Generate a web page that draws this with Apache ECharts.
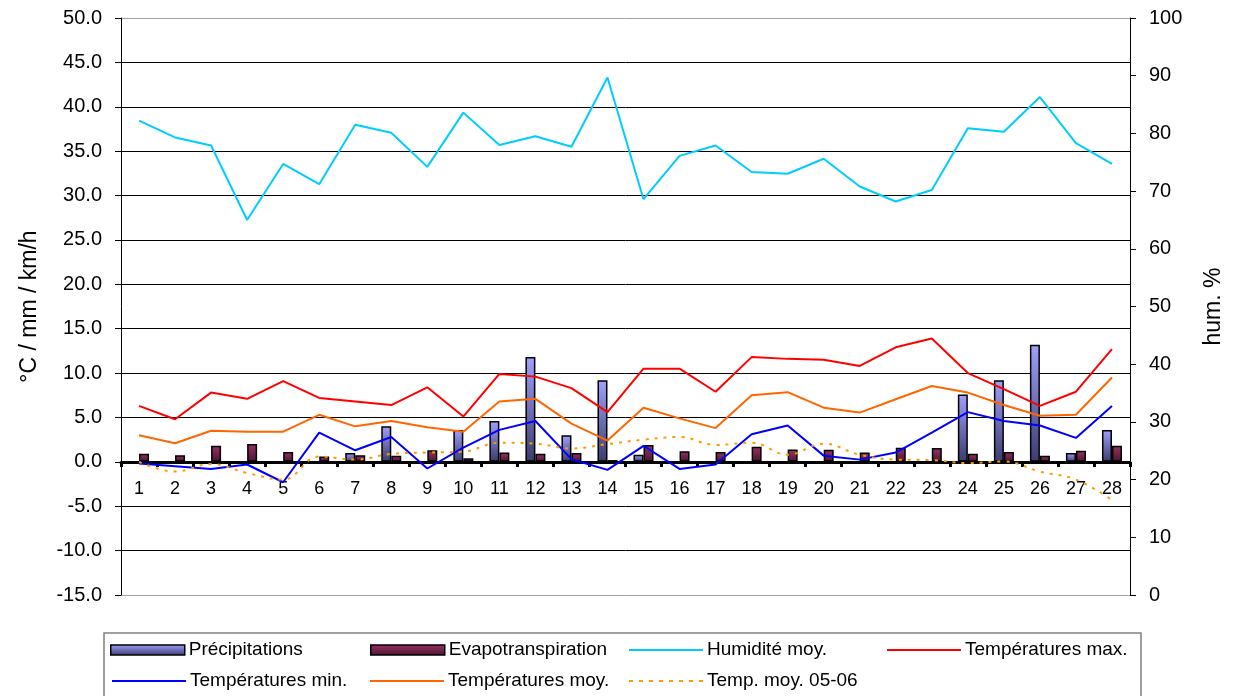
<!DOCTYPE html>
<html>
<head>
<meta charset="utf-8">
<script src="https://cdn.jsdelivr.net/npm/echarts@6/dist/echarts.min.js"></script>
<style>
  html, body { margin: 0; padding: 0; background: #fff; }
  #chart { width: 1233px; height: 696px; }
</style>
</head>
<body>
<div id="chart"></div>
<script>
// jours du mois
var days = ['1','2','3','4','5','6','7','8','9','10','11','12','13','14','15','16','17','18','19','20','21','22','23','24','25','26','27','28'];

var precip = [0, 0, 0, 0, 0, 0, 1.0, 4.0, 0, 3.6, 4.6, 11.8, 3.0, 9.2, 0.8, 0, 0, 0, 0, 0, 0, 0, 0, 7.6, 9.2, 13.2, 1.0, 3.6];
var evapo = [0.9, 0.75, 1.8, 2.0, 1.1, 0.6, 0.75, 0.7, 1.3, 0.4, 1.05, 0.9, 1.0, 0.2, 1.9, 1.2, 1.1, 1.7, 1.4, 1.35, 1.05, 1.6, 1.55, 0.9, 1.1, 0.7, 1.25, 1.8];
var humidite = [82.2, 79.3, 77.9, 65.0, 74.7, 71.2, 81.5, 80.1, 74.2, 83.6, 78.0, 79.5, 77.7, 89.7, 68.6, 76.1, 77.9, 73.3, 73.0, 75.6, 70.8, 68.2, 70.2, 80.9, 80.3, 86.3, 78.3, 74.7];
var tMax = [6.3, 4.8, 7.8, 7.1, 9.1, 7.2, 6.8, 6.4, 8.4, 5.1, 9.9, 9.6, 8.3, 5.6, 10.5, 10.5, 7.9, 11.8, 11.6, 11.5, 10.8, 12.9, 13.9, 10.0, 8.2, 6.3, 7.9, 12.7];
var tMin = [-0.2, -0.5, -0.8, -0.3, -2.3, 3.3, 1.3, 2.8, -0.75, 1.6, 3.6, 4.6, 0.3, -0.9, 1.8, -0.8, -0.3, 3.1, 4.1, 0.7, 0.25, 1.05, 3.3, 5.6, 4.6, 4.1, 2.7, 6.3];
var tMoy = [3.0, 2.1, 3.5, 3.4, 3.4, 5.3, 4.0, 4.6, 3.9, 3.4, 6.8, 7.1, 4.3, 2.4, 6.1, 4.9, 3.8, 7.5, 7.85, 6.1, 5.55, 7.05, 8.55, 7.8, 6.4, 5.2, 5.3, 9.5];
var tMoy0506 = [0.0, -1.1, -0.25, -1.25, -2.0, 0.6, 0.25, 0.9, 1.05, 1.15, 2.15, 2.05, 1.5, 2.0, 2.5, 2.8, 1.9, 2.15, 0.8, 2.05, 0.8, 0.25, 0.2, -0.15, 0.05, -1.1, -2.0, -4.3];

var chart = echarts.init(document.getElementById('chart'), null, {renderer: 'canvas'});

var font = 'Liberation Sans, Arial, sans-serif';

var barPrecip = new echarts.graphic.LinearGradient(0, 0, 0, 1, [
  {offset: 0, color: '#a0a0ff'},
  {offset: 1, color: '#3c3c6e'}
]);
var barEvapo = new echarts.graphic.LinearGradient(0, 0, 0, 1, [
  {offset: 0, color: '#993366'},
  {offset: 1, color: '#4a1430'}
]);

// dotted legend icon
var dots = 'path://';
for (var d = 0; d <= 70; d += 10) dots += 'M' + d + ',0h4v2h-4z';

// grid lines: outer ones grey, inner ones black
var gridColors = ['#a0a0a0'];
for (var g = 0; g < 12; g++) gridColors.push('#000');
gridColors.push('#a0a0a0');

// one legend per entry so columns line up like the original
var legendPos = [
  {name: 'Précipitations', left: 110, top: 640, icon: 'rect', h: 10},
  {name: 'Evapotranspiration', left: 370, top: 640, icon: 'rect', h: 10},
  {name: 'Humidité moy.', left: 629, top: 640, icon: 'rect', h: 2},
  {name: 'Températures max.', left: 887, top: 640, icon: 'rect', h: 2},
  {name: 'Températures min.', left: 112, top: 671, icon: 'rect', h: 2},
  {name: 'Températures moy.', left: 370, top: 671, icon: 'rect', h: 2},
  {name: 'Temp. moy. 05-06', left: 629, top: 671, icon: dots, h: 2}
];

var legends = legendPos.map(function (p) {
  return {
    left: p.left,
    top: p.top,
    padding: 0,
    itemWidth: 74,
    itemHeight: p.h,
    itemGap: 0,
    icon: p.icon,
    selectedMode: false,
    itemStyle: {borderWidth: p.h > 5 ? 1.5 : 0, borderColor: '#000'},
    textStyle: {fontFamily: font, fontSize: 19, lineHeight: 20, color: '#000', padding: [0, 0, 0, -1]},
    data: [p.name]
  };
});

var option = {
  animation: false,
  backgroundColor: '#fff',
  textStyle: {fontFamily: font},
  grid: {left: 121, right: 100, top: 18, bottom: 101},
  graphic: [{
    type: 'rect',
    shape: {x: 104, y: 633, width: 1037, height: 70},
    style: {fill: 'none', stroke: '#808080', lineWidth: 1.5},
    z: 0
  }],
  legend: legends,
  xAxis: {
    type: 'category',
    data: days,
    boundaryGap: true,
    offset: -133,
    axisLine: {onZero: false, lineStyle: {color: '#000', width: 3}},
    axisTick: {show: true, length: 5, lineStyle: {color: '#000', width: 3}},
    axisLabel: {fontSize: 18, color: '#000', margin: 18, fontFamily: font},
    splitLine: {show: false}
  },
  yAxis: [{
    type: 'value',
    min: -15,
    max: 50,
    interval: 5,
    name: '°C / mm / km/h',
    nameLocation: 'middle',
    nameRotate: 90,
    nameGap: 80,
    nameTextStyle: {fontSize: 23, color: '#000', fontFamily: font},
    axisLine: {show: true, lineStyle: {color: '#000', width: 1}},
    axisTick: {show: true, length: 6, lineStyle: {color: '#000'}},
    axisLabel: {fontSize: 20, color: '#000', margin: 19, fontFamily: font,
      formatter: function (v) { return v.toFixed(1); }},
    splitLine: {lineStyle: {color: gridColors, width: 1}}
  }, {
    type: 'value',
    min: 0,
    max: 100,
    interval: 10,
    name: 'hum. %',
    nameLocation: 'middle',
    nameRotate: 90,
    nameGap: 72,
    nameTextStyle: {fontSize: 23, color: '#000', fontFamily: font},
    axisLine: {show: true, lineStyle: {color: '#000', width: 1}},
    axisTick: {show: true, length: 6, lineStyle: {color: '#000'}},
    axisLabel: {fontSize: 20, color: '#000', margin: 19, fontFamily: font},
    splitLine: {show: false}
  }],
  series: [
    {
      name: 'Précipitations',
      type: 'bar',
      data: precip,
      barWidth: 10,
      barGap: '0%',
      itemStyle: {color: barPrecip, borderColor: '#000', borderWidth: 1.5},
      z: 2
    },
    {
      name: 'Evapotranspiration',
      type: 'bar',
      data: evapo,
      barWidth: 10,
      itemStyle: {color: barEvapo, borderColor: '#000', borderWidth: 1.5},
      z: 2
    },
    {
      name: 'Humidité moy.',
      type: 'line',
      yAxisIndex: 1,
      data: humidite,
      symbol: 'none',
      color: '#00ccff',
      lineStyle: {color: '#00ccff', width: 2},
      z: 3
    },
    {
      name: 'Températures max.',
      type: 'line',
      data: tMax,
      symbol: 'none',
      color: '#ff0000',
      lineStyle: {color: '#ff0000', width: 2},
      z: 3
    },
    {
      name: 'Températures min.',
      type: 'line',
      data: tMin,
      symbol: 'none',
      color: '#0000ff',
      lineStyle: {color: '#0000ff', width: 2},
      z: 3
    },
    {
      name: 'Températures moy.',
      type: 'line',
      data: tMoy,
      symbol: 'none',
      color: '#ff6600',
      lineStyle: {color: '#ff6600', width: 2},
      z: 3
    },
    {
      name: 'Temp. moy. 05-06',
      type: 'line',
      data: tMoy0506,
      symbol: 'none',
      smooth: 0.4,
      color: '#ff9900',
      lineStyle: {color: '#ff9900', width: 2, type: [3, 6]},
      z: 3
    }
  ]
};

chart.setOption(option);
</script>
</body>
</html>
